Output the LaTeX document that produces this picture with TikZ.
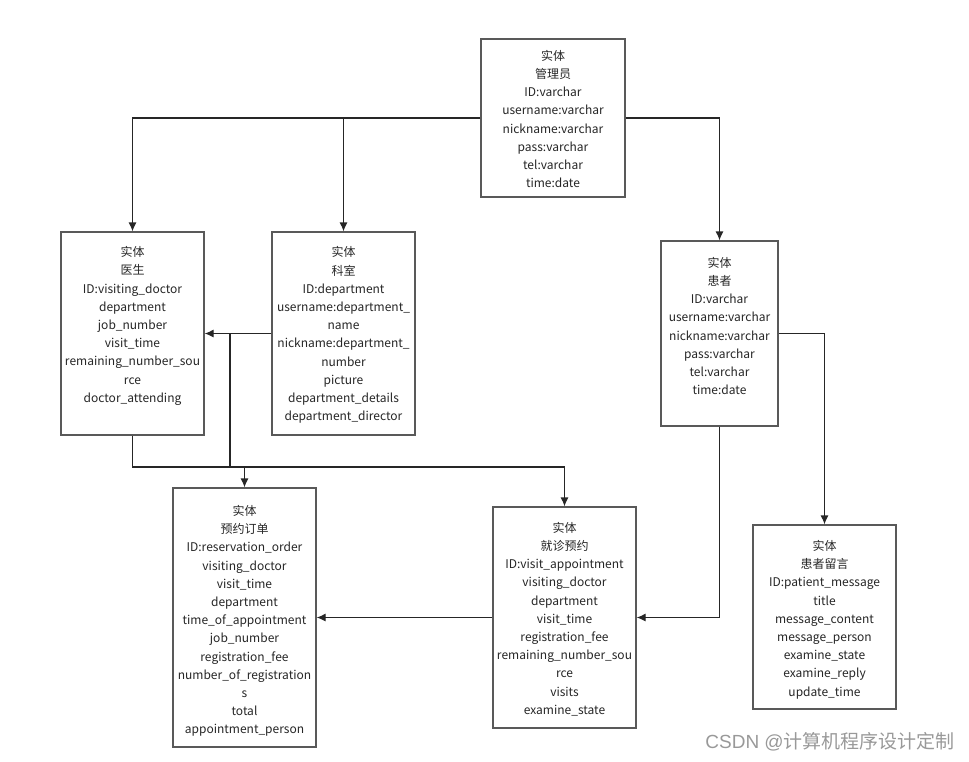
\documentclass[tikz,border=0pt]{standalone}
\usepackage{fontspec}
\setmainfont{Noto Sans CJK SC}
\newfontfamily\marklatin{Liberation Sans}
\usetikzlibrary{arrows.meta,positioning}

\begin{document}
\begin{tikzpicture}[x=1pt,y=-1pt,
                    >={Latex[length=9pt,width=8pt]},
                    entity/.style={draw=black!65,line width=1.2pt,fill=white},
                    attrs/.style={align=center,inner sep=0pt,
                        font=\fontsize{12}{18.2}\selectfont,text=black!85},
                    link/.style={line width=1.2pt,draw=black!85}]

                \useasboundingbox (0,0) rectangle (969,761);

                % entity boxes
                \node[entity,minimum width=144pt,minimum height=158pt] (admin) at (553,118) {};
                \node[entity,minimum width=143pt,minimum height=203pt] (doctor) at (132.5,333.5) {};
                \node[entity,minimum width=143pt,minimum height=203pt] (dept) at (343.5,333.5) {};
                \node[entity,minimum width=117pt,minimum height=185pt] (patient) at (719.5,333.5) {};
                \node[entity,minimum width=143pt,minimum height=259pt] (order) at (244.5,617.5) {};
                \node[entity,minimum width=143pt,minimum height=221pt] (visit) at (564.5,617.5) {};
                \node[entity,minimum width=143pt,minimum height=184pt] (message) at (824.5,617) {};

                % attribute lists
                \node[attrs] (admin text) at (553,119) {实体\\管理员\\ID:varchar\\username:varchar\\nickname:varchar\\pass:varchar\\tel:varchar\\time:date};
                \node[attrs] (doctor text) at (132.5,326) {实体\\医生\\ID:visiting\_doctor\\department\\job\_number\\visit\_time\\remaining\_number\_sou\\rce\\doctor\_attending};
                \node[attrs] (dept text) at (343.5,335) {实体\\科室\\ID:department\\username:department\_\\name\\nickname:department\_\\number\\picture\\department\_details\\department\_director};
                \node[attrs] (patient text) at (719.5,326) {实体\\患者\\ID:varchar\\username:varchar\\nickname:varchar\\pass:varchar\\tel:varchar\\time:date};
                \node[attrs] (order text) at (244.5,621) {实体\\预约订单\\ID:reservation\_order\\visiting\_doctor\\visit\_time\\department\\time\_of\_appointment\\job\_number\\registration\_fee\\number\_of\_registration\\s\\total\\appointment\_person};
                \node[attrs] (visit text) at (564.5,619) {实体\\就诊预约\\ID:visit\_appointment\\visiting\_doctor\\department\\visit\_time\\registration\_fee\\remaining\_number\_sou\\rce\\visits\\examine\_state};
                \node[attrs] (message text) at (824.5,619.5) {实体\\患者留言\\ID:patient\_message\\title\\message\_content\\message\_person\\examine\_state\\examine\_reply\\update\_time};

                % connectors
                \coordinate (bus) at (230,467);
                \draw[link,->] (admin.west) -| (doctor.north);
                \draw[link,->] (admin.west -| dept.north) -- (dept.north);
                \draw[link,->] (admin.east) -| (patient.north);
                \draw[link,->] (dept.west) -- (doctor.east);
                \draw[link] (dept.west -| bus) -- (bus);
                \draw[link,->] (doctor.south) |- (bus) -| (visit.north);
                \draw[link,->] (bus -| order.north) -- (order.north);
                \draw[link,->] (patient.south) |- (visit.east);
                \draw[link,->] (patient.east) -| (message.north);
                \draw[link,->] (visit.west) -- (order.east);

                \node[anchor=east,inner sep=0pt,text=black!40,
                      font=\fontsize{19}{19}\selectfont] (mark) at (955,742) {{\marklatin CSDN @}计算机程序设计定制};

            \end{tikzpicture}
\end{document}
